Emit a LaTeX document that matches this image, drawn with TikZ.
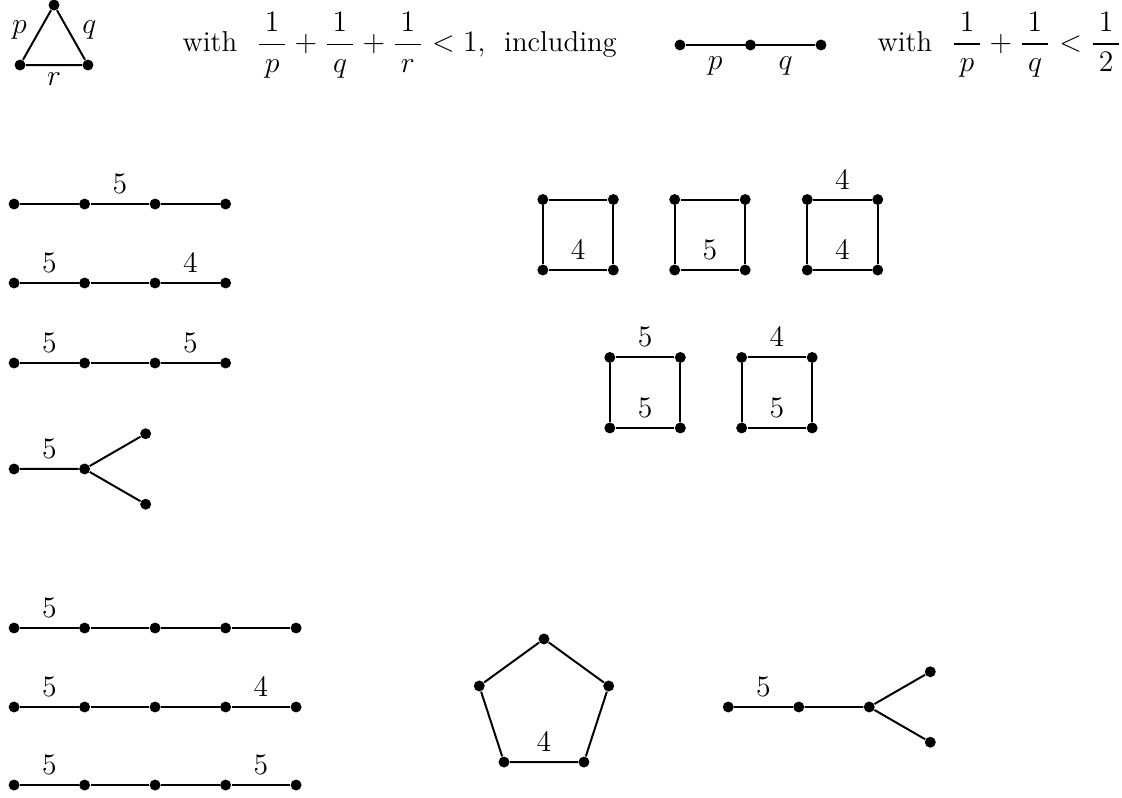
\documentclass[tikz,border=0pt]{standalone}
\usepackage{amsmath,amssymb}
% fraction with a slightly longer bar
\newcommand{\wfrac}[2]{\frac{\mkern3.5mu#1\mkern3.5mu}{\mkern3.5mu#2\mkern3.5mu}}

\begin{document}
\begin{tikzpicture}[
    dot/.style={circle, fill, inner sep=0pt, minimum size=0.155cm},
    link/.style={thick},
    txt/.style={anchor=base west, inner sep=0pt},
    font=\fontsize{11.6}{14}\selectfont
]
    \useasboundingbox (0,0) rectangle (15.915,-11.305);

    % Header: triangle, condition, path
    \node[dot] (tt) at (0.766,-0.071) {};
    \node[dot] (tl) at (0.284,-0.922) {};
    \node[dot] (tr) at (1.248,-0.922) {};
    \draw[link] (tl) -- node[pos=0.6, left=1.5pt] {$p$} (tt)
        -- node[pos=0.4, right=2pt] {$q$} (tr) -- node[below=-0.5pt] {$r$} (tl);
    \node[txt] (cond1) at (2.582,-0.735)
        {with\ \ $\displaystyle\wfrac{1}{p}+\wfrac{1}{q}+\wfrac{1}{r}<1$,\ \ including};
    \node[dot] (u1) at (9.645,-0.638) {};
    \node[dot] (u2) at (10.645,-0.638) {};
    \node[dot] (u3) at (11.645,-0.638) {};
    \draw[link] (u1) -- node[below=1pt] {$p$} (u2) -- node[below=1pt] {$q$} (u3);
    \node[txt] (cond2) at (12.44,-0.73)
        {with\ \ $\displaystyle\wfrac{1}{p}+\wfrac{1}{q}<\wfrac{1}{2}$};

    % Left column: chains with four vertices and the fork
    \node[dot] (a1) at (0.2,-2.894) {}; \node[dot] (a2) at (1.2,-2.894) {};
    \node[dot] (a3) at (2.2,-2.894) {}; \node[dot] (a4) at (3.2,-2.894) {};
    \draw[link] (a1) -- (a2) -- node[above=0.5pt] {$5$} (a3) -- (a4);

    \node[dot] (b1) at (0.2,-4.014) {}; \node[dot] (b2) at (1.2,-4.014) {};
    \node[dot] (b3) at (2.2,-4.014) {}; \node[dot] (b4) at (3.2,-4.014) {};
    \draw[link] (b1) -- node[above=0.5pt] {$5$} (b2) -- (b3) -- node[above=0.5pt] {$4$} (b4);

    \node[dot] (c1) at (0.2,-5.149) {}; \node[dot] (c2) at (1.2,-5.149) {};
    \node[dot] (c3) at (2.2,-5.149) {}; \node[dot] (c4) at (3.2,-5.149) {};
    \draw[link] (c1) -- node[above=0.5pt] {$5$} (c2) -- (c3) -- node[above=0.5pt] {$5$} (c4);

    \node[dot] (d1) at (0.2,-6.652) {}; \node[dot] (d2) at (1.2,-6.652) {};
    \node[dot] (d3) at (2.066,-6.152) {}; \node[dot] (d4) at (2.066,-7.152) {};
    \draw[link] (d1) -- node[above=0.5pt] {$5$} (d2) -- (d3);
    \draw[link] (d2) -- (d4);

    % Squares
    \node[dot] (s1a) at (7.70,-3.83) {}; \node[dot] (s1b) at (8.70,-3.83) {};
    \node[dot] (s1c) at (8.70,-2.83) {}; \node[dot] (s1d) at (7.70,-2.83) {};
    \draw[link] (s1a) -- node[above=0.5pt] {$4$} (s1b) -- (s1c) -- (s1d) -- (s1a);

    \node[dot] (s2a) at (9.57,-3.83) {}; \node[dot] (s2b) at (10.57,-3.83) {};
    \node[dot] (s2c) at (10.57,-2.83) {}; \node[dot] (s2d) at (9.57,-2.83) {};
    \draw[link] (s2a) -- node[above=0.5pt] {$5$} (s2b) -- (s2c) -- (s2d) -- (s2a);

    \node[dot] (s3a) at (11.45,-3.83) {}; \node[dot] (s3b) at (12.45,-3.83) {};
    \node[dot] (s3c) at (12.45,-2.83) {}; \node[dot] (s3d) at (11.45,-2.83) {};
    \draw[link] (s3a) -- node[above=0.5pt] {$4$} (s3b) -- (s3c)
        -- node[above=0.5pt] {$4$} (s3d) -- (s3a);

    \node[dot] (s4a) at (8.65,-6.07) {}; \node[dot] (s4b) at (9.65,-6.07) {};
    \node[dot] (s4c) at (9.65,-5.07) {}; \node[dot] (s4d) at (8.65,-5.07) {};
    \draw[link] (s4a) -- node[above=0.5pt] {$5$} (s4b) -- (s4c)
        -- node[above=0.5pt] {$5$} (s4d) -- (s4a);

    \node[dot] (s5a) at (10.52,-6.07) {}; \node[dot] (s5b) at (11.52,-6.07) {};
    \node[dot] (s5c) at (11.52,-5.07) {}; \node[dot] (s5d) at (10.52,-5.07) {};
    \draw[link] (s5a) -- node[above=0.5pt] {$5$} (s5b) -- (s5c)
        -- node[above=0.5pt] {$4$} (s5d) -- (s5a);

    % Bottom: chains with five vertices
    \node[dot] (e1) at (0.2,-8.908) {}; \node[dot] (e2) at (1.2,-8.908) {};
    \node[dot] (e3) at (2.2,-8.908) {}; \node[dot] (e4) at (3.2,-8.908) {};
    \node[dot] (e5) at (4.2,-8.908) {};
    \draw[link] (e1) -- node[above=0.5pt] {$5$} (e2) -- (e3) -- (e4) -- (e5);

    \node[dot] (f1) at (0.2,-10.028) {}; \node[dot] (f2) at (1.2,-10.028) {};
    \node[dot] (f3) at (2.2,-10.028) {}; \node[dot] (f4) at (3.2,-10.028) {};
    \node[dot] (f5) at (4.2,-10.028) {};
    \draw[link] (f1) -- node[above=0.5pt] {$5$} (f2) -- (f3) -- (f4) -- node[above=0.5pt] {$4$} (f5);

    \node[dot] (g1) at (0.2,-11.135) {}; \node[dot] (g2) at (1.2,-11.135) {};
    \node[dot] (g3) at (2.2,-11.135) {}; \node[dot] (g4) at (3.2,-11.135) {};
    \node[dot] (g5) at (4.2,-11.135) {};
    \draw[link] (g1) -- node[above=0.5pt] {$5$} (g2) -- (g3) -- (g4) -- node[above=0.5pt] {$5$} (g5);

    % Pentagon
    \node[dot] (p1) at (7.716,-9.063) {};
    \node[dot] (p2) at (6.798,-9.730) {};
    \node[dot] (p3) at (7.149,-10.809) {};
    \node[dot] (p4) at (8.283,-10.809) {};
    \node[dot] (p5) at (8.634,-9.730) {};
    \draw[link] (p1) -- (p2) -- (p3) -- node[above=0.5pt] {$4$} (p4) -- (p5) -- (p1);

    % Fork with a longer stem
    \node[dot] (h1) at (10.33,-10.028) {}; \node[dot] (h2) at (11.33,-10.028) {};
    \node[dot] (h3) at (12.33,-10.028) {};
    \node[dot] (h4) at (13.196,-9.528) {}; \node[dot] (h5) at (13.196,-10.528) {};
    \draw[link] (h1) -- node[above=0.5pt] {$5$} (h2) -- (h3) -- (h4);
    \draw[link] (h3) -- (h5);
\end{tikzpicture}
\end{document}
